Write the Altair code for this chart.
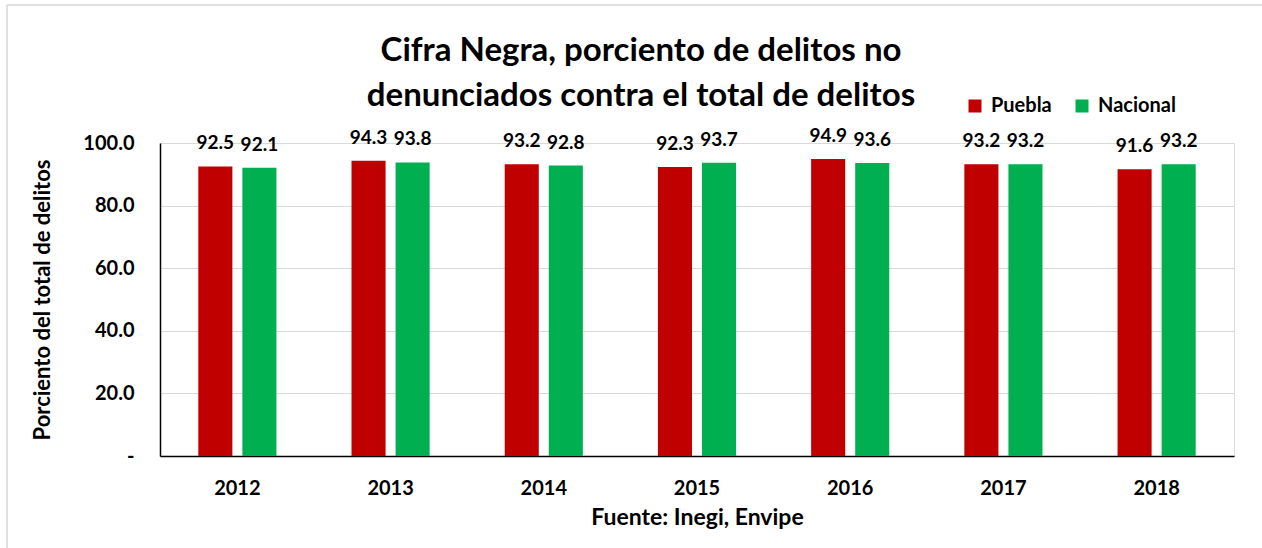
import altair as alt
import pandas as pd

years = ["2012", "2013", "2014", "2015", "2016", "2017", "2018"]
puebla = [92.5, 94.3, 93.2, 92.3, 94.9, 93.2, 91.6]
nacional = [92.1, 93.8, 92.8, 93.7, 93.6, 93.2, 93.2]
series = ["Puebla", "Nacional"]
colors = ["#C00000", "#00B050"]

rows = []
for y, p, n in zip(years, puebla, nacional):
    rows.append({"year": y, "serie": "Puebla", "value": p})
    rows.append({"year": y, "serie": "Nacional", "value": n})
df = pd.DataFrame(rows)

FONT = "Lato, sans-serif"

x = alt.X("year:N", scale=alt.Scale(paddingInner=0.49, paddingOuter=0.25),
          axis=alt.Axis(title="Fuente: Inegi, Envipe", labelAngle=0, ticks=False,
                        domainColor="black", domainWidth=1.5,
                        labelFontSize=20, labelFont=FONT, labelFontWeight="bold",
                        labelPadding=22, titleFontSize=23, titleFont=FONT,
                        titleFontWeight="bold", titlePadding=8, labelColor="black",
                        titleColor="black"))
xo = alt.XOffset("serie:N", sort=series, scale=alt.Scale(paddingInner=0.227))

base = alt.Chart(df).encode(x=x, xOffset=xo)

bars = base.mark_bar().encode(
    y=alt.Y("value:Q", scale=alt.Scale(domain=[0, 100]),
            axis=alt.Axis(title="Porciento del total de delitos", values=[0, 20, 40, 60, 80, 100],
                          labelExpr="datum.value == 0 ? '-' : format(datum.value, '.1f')",
                          ticks=False, domainColor="black", domainWidth=1.5,
                          gridColor="#d9d9d9", labelFontSize=20, labelFont=FONT,
                          labelFontWeight="bold", labelPadding=26, labelColor="black",
                          titleFontSize=22, titleFont=FONT, titleFontWeight="bold",
                          titlePadding=28, titleColor="black")),
    color=alt.Color("serie:N", sort=series,
                    scale=alt.Scale(domain=series, range=colors),
                    legend=alt.Legend(title=None, orient="none", direction="horizontal",
                                      legendX=805, legendY=-47, symbolType="square",
                                      symbolSize=169, symbolStrokeWidth=0,
                                      labelFontSize=20, labelFont=FONT,
                                      labelFontWeight="bold", labelColor="black",
                                      columnPadding=20, labelOffset=6, symbolOpacity=1)),
)

labels = base.mark_text(baseline="alphabetic", dy=-17, fontSize=19, font=FONT,
                        fontWeight="bold", color="black").encode(
    y=alt.Y("value:Q"),
    text=alt.Text("value:Q", format=".1f"),
)

frame_df = pd.DataFrame({"k": [0]})
frame_top = alt.Chart(frame_df).mark_rule(color="#e0e0e0", strokeWidth=2).encode(
    x=alt.value(-153), x2=alt.value(1102), y=alt.value(-138))
frame_left = alt.Chart(frame_df).mark_rule(color="#e0e0e0", strokeWidth=2).encode(
    x=alt.value(-153), y=alt.value(-138), y2=alt.value(405))

chart = (frame_top + frame_left + bars + labels).properties(
    width=1074, height=313,
    title=alt.TitleParams(text=["Cifra Negra, porciento de delitos no",
                                "denunciados  contra el total de delitos"],
                          fontSize=33, font=FONT, fontWeight="bold", color="black",
                          anchor="middle", dx=-56, dy=141, offset=32, lineHeight=45),
    padding={"left": 160, "top": 143, "right": 28, "bottom": 92},
    autosize=alt.AutoSizeParams(type="none"),
).configure_view(stroke=None).configure(background="white")

chart.save("out.html", embed_options={"renderer": "svg", "actions": False})
